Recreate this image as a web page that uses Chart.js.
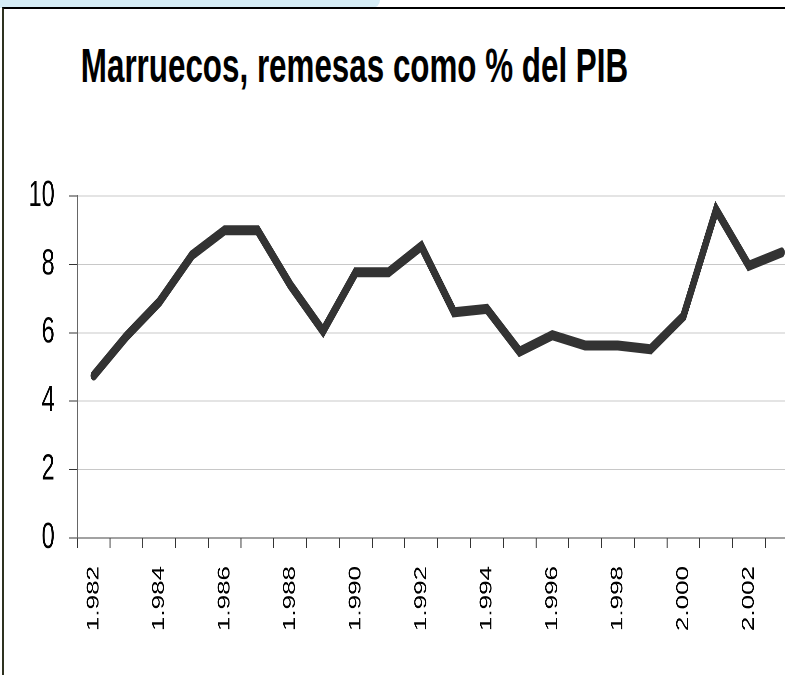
<!DOCTYPE html>
<html>
<head>
<meta charset="utf-8">
<script src="https://cdn.jsdelivr.net/npm/chart.js@4.4.1/dist/chart.umd.min.js"></script>
<style>
  html, body { margin: 0; padding: 0; background: #ffffff; overflow: hidden; }
  body { width: 785px; height: 675px; position: relative; }
  /* light blue slide band above the frame */
  .band {
    position: absolute; left: 0; top: 0; width: 380px; height: 8px;
    background: #d6edf6; border-radius: 0 0 30px 0;
  }
  .frame {
    position: absolute; left: 2px; top: 7px; width: 900px; height: 800px;
    border-left: 2px solid #2e3220; border-top: 2px solid #000000;
  }
  /* wide box centred on x = 354.5 so the text never overflows to one side */
  .title {
    position: absolute; left: -300px; top: 41px; width: 1309px;
    text-align: center; white-space: nowrap;
    font: bold 49px/49px "Liberation Sans", Arial, sans-serif; color: #000;
    transform: scaleX(0.64); transform-origin: 654.5px 0;
  }
  /* the original chart is squeezed horizontally, so the canvas is too */
  .wrap {
    position: absolute; left: 0; top: 0; width: 1252px; height: 675px;
    transform: scaleX(0.65); transform-origin: 0 0;
  }
</style>
</head>
<body>
<div class="band"></div>
<div class="frame"></div>
<div class="title">Marruecos, remesas como % del PIB</div>
<div class="wrap"><canvas id="remesasChart"></canvas></div>

<script>
// Remittances as % of GDP, Morocco, 1982–2003
const years = [
  '1.982','1.983','1.984','1.985','1.986','1.987','1.988','1.989','1.990','1.991','1.992',
  '1.993','1.994','1.995','1.996','1.997','1.998','1.999','2.000','2.001','2.002','2.003'
];

const remesas = [
  4.75, 5.9, 6.9, 8.27, 9.0, 9.0, 7.4, 6.05, 7.77, 7.77, 8.53,
  6.6, 6.7, 5.45, 5.93, 5.63, 5.63, 5.52, 6.48, 9.6, 7.96, 8.35
];

const yTicks = [0, 2, 4, 6, 8, 10];

const ctx = document.getElementById('remesasChart').getContext('2d');

new Chart(ctx, {
  type: 'line',
  data: {
    labels: years,
    datasets: [{
      data: remesas,
      borderColor: '#333333',
      borderWidth: 10,
      borderCapStyle: 'round',
      borderJoinStyle: 'miter',
      pointRadius: 0,
      tension: 0
    }]
  },
  options: {
    responsive: true,
    maintainAspectRatio: false,
    animation: false,
    devicePixelRatio: 2,
    layout: { padding: { top: 196, right: 14, left: 0, bottom: 0 } },
    plugins: {
      legend: { display: false },
      tooltip: { enabled: false }
    },
    scales: {
      x: {
        offset: true,
        grid: {
          offset: true,
          drawOnChartArea: false,
          tickLength: 10,
          lineWidth: 1.5,
          tickColor: '#333333'
        },
        border: { color: '#444444', width: 1 },
        ticks: {
          autoSkip: false,
          minRotation: 90,
          maxRotation: 90,
          padding: 18,
          color: '#000000',
          font: { family: 'Liberation Sans', size: 26 },
          // only every second year is labelled
          callback: function(value, index) {
            return index % 2 === 0 ? years[index] : '';
          }
        },
        afterFit: function(scale) { scale.height = 137; }
      },
      y: {
        min: 0,
        max: 10,
        afterBuildTicks: function(scale) {
          scale.ticks = yTicks.map(v => ({ value: v }));
        },
        grid: {
          color: ctx => ctx.tick && ctx.tick.value === 0 ? '#444444' : '#c8c8c8',
          lineWidth: 1,
          tickLength: 13,
          tickColor: '#333333'
        },
        border: { color: '#666666', width: 1.6 },
        ticks: {
          padding: 22,
          color: '#000000',
          font: { family: 'Liberation Sans', size: 36 }
        },
        afterFit: function(scale) { scale.width = 119; }
      }
    }
  }
});
</script>
</body>
</html>
